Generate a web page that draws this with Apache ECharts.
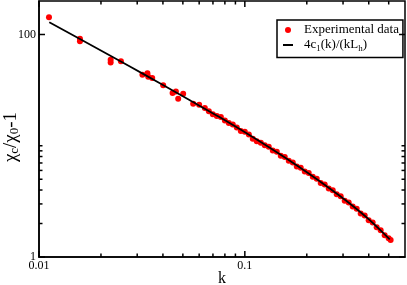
<!DOCTYPE html>
<html><head><meta charset="utf-8">
<script src="https://cdn.jsdelivr.net/npm/echarts@6/dist/echarts.min.js"></script>
<style>html,body{margin:0;padding:0;background:#fff}#c{width:407px;height:285px}</style>
</head><body><div id="c"></div>
<script>
// Experimental data (k, chi_c/chi_0 - 1)
const expK = [0.01118,0.01581,0.01581,0.02229,0.02229,0.02500,0.03180,0.03363,0.03394,0.03548,0.04012,0.04457,0.04624,0.04745,0.05017,0.05610,0.06000,0.06393,0.06686,
  0.0699,0.0731,0.0765,0.0800,0.0836,0.0874,0.0914,0.0956,0.1000,0.1046,0.1093,0.1143,0.1196,0.1250,0.1307,0.1367,0.1430,0.1495,0.1563,0.1635,0.1710,0.1788,0.1869,0.1955,0.2044,0.2138,0.2235,0.2337,0.2444,0.2556,0.2673,0.2795,0.2923,0.3056,0.3196,0.3342,0.3495,0.3655,0.3822,0.3996,0.4179,0.4370,0.4570,0.4779,0.4997,0.5110];
const expV = [142.9,91.5,87.1,59.3,56.1,57.6,43.5,44.9,41.7,40.6,34.9,29.8,30.8,26.5,29.4,23.9,23.4,21.8,20.4,
  19.16,18.50,18.16,16.90,16.01,15.52,14.56,13.58,13.38,12.63,11.58,11.00,10.66,10.10,9.815,9.057,8.816,8.118,7.937,7.336,7.082,6.522,6.349,5.857,5.703,5.261,5.058,4.619,4.478,4.124,3.991,3.666,3.511,3.205,3.095,2.838,2.718,2.466,2.361,2.142,2.043,1.847,1.736,1.565,1.474,1.420];
// Curve 4c1(k)/(kLh)
const fitK = [0.01122,0.01581,0.02212,0.02765,0.03867,0.05408,0.07561,0.1057,0.1322,0.1654,0.2068,0.2586,0.3233,0.4044,0.5058];
const fitV = [128.9,91.1,64.8,51.6,36.4,25.6,18.0,12.43,9.60,7.34,5.55,4.13,3.03,2.147,1.441];
// Ticks and labels
const xMajorTicks = [0.01, 0.1];
const xTickLabels = ['0.01', '0.1'];
const xMinorTicks = [0.02,0.03,0.04,0.05,0.06,0.07,0.08,0.09,0.2,0.3,0.4,0.5];
const yMajorTicks = [1, 100];
const yTickLabels = ['1', '100'];
const yMinorTicks = [2,3,4,5,6,7,8,9,10];

const expName = 'Experimental data';
const fitName = '4c1(k)/(kLh)';
const FONT = 'Liberation Serif';

function labelFor(v, ticks, labels) {
  for (let i = 0; i < ticks.length; i++) {
    if (Math.abs(Math.log10(v) - Math.log10(ticks[i])) < 1e-6) return labels[i];
  }
  return '';
}

const xTickData = xMajorTicks.map(k => [k, 1, 2]).concat(xMinorTicks.map(k => [k, 1, 1]));
const yTickData = yMajorTicks.map(v => [0.01, v, 2]).concat(yMinorTicks.map(v => [0.01, v, 1]));
const tickStyle = {stroke: '#000', lineWidth: 1.5};

function xTickRender(params, api) {
  const cs = params.coordSys;
  const x = api.coord([api.value(0), 1])[0];
  const L = api.value(2) > 1.5 ? 6 : 3.5;
  const yb = cs.y + cs.height, yt = cs.y;
  return {type: 'group', children: [
    {type: 'line', shape: {x1: x, y1: yb, x2: x, y2: yb - L}, style: tickStyle},
    {type: 'line', shape: {x1: x, y1: yt, x2: x, y2: yt + L}, style: tickStyle}
  ]};
}
function yTickRender(params, api) {
  const cs = params.coordSys;
  const y = api.coord([0.01, api.value(1)])[1];
  const L = api.value(2) > 1.5 ? 6 : 3.5;
  const xl = cs.x, xr = cs.x + cs.width;
  return {type: 'group', children: [
    {type: 'line', shape: {x1: xl, y1: y, x2: xl + L, y2: y}, style: tickStyle},
    {type: 'line', shape: {x1: xr, y1: y, x2: xr - L, y2: y}, style: tickStyle}
  ]};
}

const chart = echarts.init(document.getElementById('c'), null, {renderer: 'canvas'});
chart.setOption({
  animation: false,
  backgroundColor: '#fff',
  grid: {left: 39, right: 2, top: 1, bottom: 28, show: true, borderColor: '#000', borderWidth: 1.5, containLabel: false, outerBoundsMode: 'none'},
  legend: {
    data: [expName, {name: fitName, itemStyle: {color: 'rgba(0,0,0,0)', borderWidth: 0, opacity: 0}}],
    orient: 'vertical', left: 277, top: 20,
    padding: [3.5, 4, 4.5, 5],
    itemWidth: 10, itemHeight: 6, itemGap: 2,
    borderColor: '#000', borderWidth: 1.5, borderRadius: 0,
    backgroundColor: '#fff',
    formatter: name => name === fitName ? '{n|4c}{s|1}{n|(k)/(kL}{s|h}{n|)}' : '{n|Experimental data}',
    textStyle: {
      padding: [0, 0, 0, 6],
      rich: {
        n: {fontFamily: FONT, fontSize: 13, lineHeight: 16, color: '#000'},
        s: {fontFamily: FONT, fontSize: 9, lineHeight: 9, verticalAlign: 'bottom', color: '#000'}
      }
    }
  },
  xAxis: {
    type: 'log', logBase: 10, min: 0.01, max: 0.6,
    name: 'k', nameLocation: 'middle', nameGap: 14, nameMoveOverlap: false,
    nameTextStyle: {fontFamily: FONT, fontSize: 16, color: '#000'},
    axisLine: {show: true, onZero: false, lineStyle: {color: '#000', width: 1.5}},
    axisTick: {show: false},
    splitLine: {show: false},
    axisLabel: {margin: 3, fontFamily: FONT, fontSize: 12, color: '#000', showMinLabel: true, showMaxLabel: true,
      formatter: v => labelFor(v, xMajorTicks, xTickLabels)}
  },
  yAxis: {
    type: 'log', logBase: 10, min: 1, max: 200,
    name: '{n|χ}{s|c}{n|/χ}{s|0}{n|-1}', nameLocation: 'middle', nameGap: 18, nameMoveOverlap: false,
    nameTextStyle: {
      padding: [0, 16, 0, 0],
      rich: {
        n: {fontFamily: FONT, fontSize: 19, lineHeight: 20, color: '#000'},
        s: {fontFamily: FONT, fontSize: 13, lineHeight: 13, verticalAlign: 'bottom', color: '#000'}
      }
    },
    axisLine: {show: true, onZero: false, lineStyle: {color: '#000', width: 1.5}},
    axisTick: {show: false},
    splitLine: {show: false},
    axisLabel: {margin: 3, fontFamily: FONT, fontSize: 12, color: '#000', showMinLabel: true, showMaxLabel: true,
      formatter: v => labelFor(v, yMajorTicks, yTickLabels)}
  },
  series: [
    {
      name: expName, type: 'scatter', symbol: 'circle', symbolSize: 6,
      itemStyle: {color: '#ff0000', opacity: 1},
      data: expK.map((k, i) => [k, expV[i]]), z: 2
    },
    {
      name: fitName, type: 'line', smooth: 0.3, showSymbol: false, symbol: 'none',
      lineStyle: {color: '#000', width: 1.8}, itemStyle: {color: '#000'},
      data: fitK.map((k, i) => [k, fitV[i]]), z: 3
    },
    {type: 'custom', silent: true, clip: false, renderItem: xTickRender, data: xTickData, encode: {x: 0, y: 1}, z: 5},
    {type: 'custom', silent: true, clip: false, renderItem: yTickRender, data: yTickData, encode: {x: 0, y: 1}, z: 5}
  ]
});
</script></body></html>
